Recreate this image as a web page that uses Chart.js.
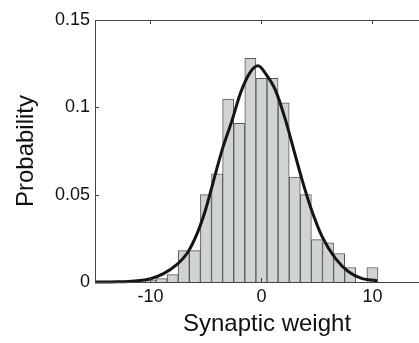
<!DOCTYPE html>
<html>
<head>
<meta charset="utf-8">
<script src="https://cdn.jsdelivr.net/npm/chart.js@4/dist/chart.umd.min.js"></script>
<style>
html,body{margin:0;padding:0;background:#fff;overflow:hidden;}
#wrap{width:439px;height:343px;position:relative;}
</style>
</head>
<body>
<div id="wrap"><canvas id="c" width="439" height="343"></canvas></div>
<script>
// Histogram bins (bin centres) and probabilities
const binCenters = [-10, -9, -8, -7, -6, -5, -4, -3, -2, -1, 0, 1, 2, 3, 4, 5, 6, 7, 8, 10];
const binProb    = [0.0012, 0.0019, 0.0042, 0.018, 0.018, 0.050, 0.062, 0.1047, 0.0908, 0.128, 0.1166, 0.1166, 0.1026, 0.060, 0.050, 0.0243, 0.0224, 0.0163, 0.0083, 0.0083];

// Fitted curve
const curveX = [-15, -14, -13, -12, -11, -10.0, -8.82, -7.61, -6.71, -5.80, -5.05, -4.30, -3.55, -2.64, -1.90, -0.99, -0.3, 0.36, 1.26, 2.17, 2.92, 3.67, 4.42, 5.48, 6.68, 7.88, 9.09, 10.29, 10.45];
const curveY = [0, 0, 0.0001, 0.0003, 0.0008, 0.0019, 0.0048, 0.0101, 0.0163, 0.0277, 0.0411, 0.0583, 0.0755, 0.0927, 0.108, 0.1203, 0.1238, 0.1194, 0.1099, 0.0927, 0.0755, 0.0583, 0.043, 0.0258, 0.0134, 0.0057, 0.0019, 0.0008, 0.0006];

// Axis ticks
const xTicks = [-10, 0, 10];
const yTicks = [0, 0.05, 0.1, 0.15];
const xMin = -15, xMax = 16, yMin = 0, yMax = 0.15;

const FONT = "'Liberation Sans', Arial, Helvetica, sans-serif";
const axisColor = '#444';

const framePlugin = {
  id: 'frame',
  afterDatasetsDraw(chart) {
    const {ctx, chartArea: a, scales: {x, y}} = chart;
    ctx.save();
    ctx.strokeStyle = axisColor;
    ctx.lineWidth = 1;
    ctx.beginPath();
    ctx.moveTo(a.left + 0.5, a.bottom);
    ctx.lineTo(a.left + 0.5, a.top + 0.5);
    ctx.lineTo(a.right, a.top + 0.5);
    ctx.moveTo(a.left, a.bottom + 0.5);
    ctx.lineTo(a.right, a.bottom + 0.5);
    const tl = 4;
    yTicks.forEach(v => {
      const py = Math.round(y.getPixelForValue(v)) + 0.5;
      ctx.moveTo(a.left, py); ctx.lineTo(a.left + tl, py);
    });
    xTicks.forEach(v => {
      const px = Math.round(x.getPixelForValue(v)) + 0.5;
      ctx.moveTo(px, a.top); ctx.lineTo(px, a.top + tl);
      ctx.moveTo(px, a.bottom); ctx.lineTo(px, a.bottom - tl);
    });
    ctx.stroke();
    ctx.restore();
  }
};

new Chart(document.getElementById('c'), {
  type: 'bar',
  data: {
    datasets: [
      {
        type: 'line',
        data: curveX.map((v, i) => ({x: v, y: curveY[i]})),
        borderColor: '#151515',
        borderWidth: 3,
        pointRadius: 0,
        fill: false,
        cubicInterpolationMode: 'monotone',
        clip: false,
        order: 1
      },
      {
        type: 'bar',
        data: binCenters.map((v, i) => ({x: v, y: binProb[i]})),
        backgroundColor: '#d0d3d3',
        borderColor: '#5a5a5a',
        borderWidth: 1,
        barPercentage: 1,
        categoryPercentage: 1,
        order: 2
      }
    ]
  },
  options: {
    responsive: false,
    animation: false,
    events: [],
    layout: {padding: {top: 20, right: 0, bottom: 0, left: 0}},
    plugins: {legend: {display: false}, tooltip: {enabled: false}},
    scales: {
      x: {
        type: 'linear',
        min: xMin, max: xMax,
        offset: false,
        grid: {display: false, drawTicks: false},
        border: {display: false},
        afterFit(s) { s.height = 61; },
        afterBuildTicks(s) { s.ticks = xTicks.map(v => ({value: v})); },
        ticks: {color: '#111', font: {family: FONT, size: 18}, padding: 4, maxRotation: 0,
                callback: v => String(v)},
        title: {display: true, text: 'Synaptic weight', color: '#111',
                font: {family: FONT, size: 24}, padding: {top: 0, bottom: 4}}
      },
      y: {
        min: yMin, max: yMax,
        grid: {display: false, drawTicks: false},
        border: {display: false},
        afterFit(s) { s.width = 95; },
        afterBuildTicks(s) { s.ticks = yTicks.map(v => ({value: v})); },
        ticks: {color: '#111', font: {family: FONT, size: 18}, padding: 5,
                callback: v => String(v)},
        title: {display: true, text: 'Probability', color: '#111',
                font: {family: FONT, size: 24}, padding: {top: 12, bottom: 0}}
      }
    }
  },
  plugins: [framePlugin]
});
</script>
</body>
</html>
